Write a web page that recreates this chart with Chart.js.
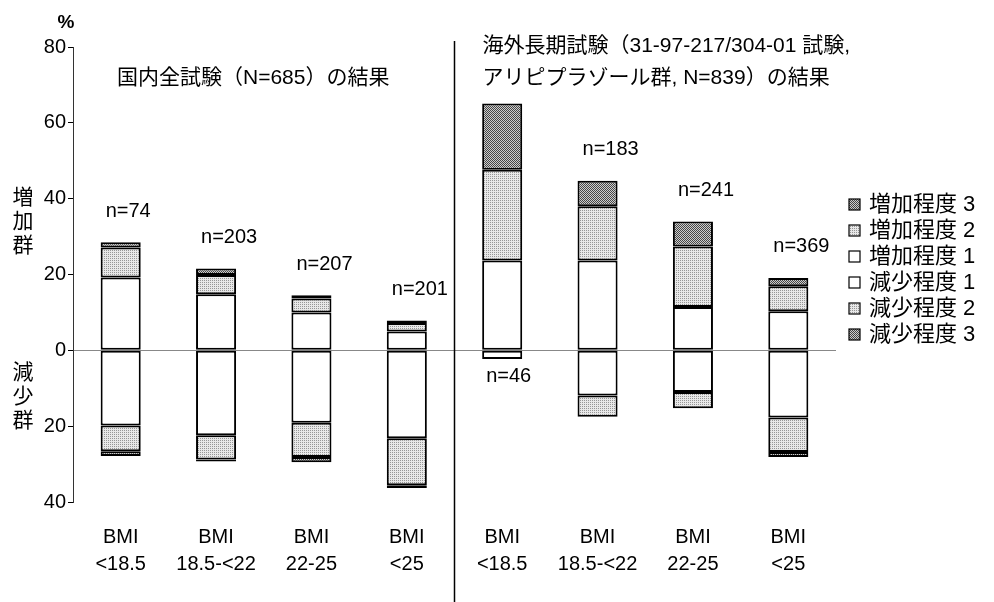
<!DOCTYPE html>
<html>
<head>
<meta charset="utf-8">
<script src="https://cdn.jsdelivr.net/npm/chart.js@4.4.1/dist/chart.umd.min.js"></script>
<style>
  body { margin: 0; background: #fff; }
  #wrap { width: 994px; height: 602px; position: relative; }
</style>
</head>
<body>
<div id="wrap"><canvas id="chart"></canvas></div>
<script>
const FONT = "'Liberation Sans', 'Noto Sans CJK JP', sans-serif";

// categories (two studies, 4 BMI groups each)
const categories = [
  ['BMI', '<18.5'], ['BMI', '18.5-<22'], ['BMI', '22-25'], ['BMI', '<25'],
  ['BMI', '<18.5'], ['BMI', '18.5-<22'], ['BMI', '22-25'], ['BMI', '<25']
];
const sampleSizes = [74, 203, 207, 201, 46, 183, 241, 369];

// % of patients, increase group
const increase1 = [19.2, 14.8, 10.0, 5.0, 23.7, 23.7, 11.4, 10.3];
const increase2 = [7.9, 5.1, 3.7, 2.2, 23.9, 14.3, 16.0, 6.6];
const increase3 = [1.4, 1.7, 0.8, 0.7, 17.5, 6.7, 6.6, 2.2];
// % of patients, decrease group (drawn below zero)
const decrease1 = [19.8, 22.4, 19.1, 23.2, 2.3, 11.9, 11.0, 17.7];
const decrease2 = [6.8, 6.4, 9.0, 12.4, 0, 5.6, 4.3, 9.1];
const decrease3 = [1.3, 0.5, 1.4, 0.7, 0, 0, 0, 1.3];

const yTicks = [-40, -20, 0, 20, 40, 60, 80];
const leftTitle = '国内全試験（N=685）の結果';
const rightTitle = ['海外長期試験（31-97-217/304-01 試験,', 'アリピプラゾール群, N=839）の結果'];

// halftone-like textures (ordered dither)
const bayer = [0, 8, 2, 10, 12, 4, 14, 6, 3, 11, 1, 9, 15, 7, 13, 5];
function dither(cut, lo, hi) {
  const c = document.createElement('canvas');
  c.width = 4; c.height = 4;
  const g = c.getContext('2d');
  bayer.forEach((t, i) => {
    const v = t < cut ? lo : hi;
    g.fillStyle = `rgb(${v},${v},${v})`;
    g.fillRect(i % 4, Math.floor(i / 4), 1, 1);
  });
  return g.createPattern(c, 'repeat');
}
const ctx0 = document.getElementById('chart').getContext('2d');
const dark = dither(8, 70, 205);
const light = dither(4, 150, 232);

const pos = arr => arr;
const neg = arr => arr.map(v => v ? -v : null);

function ds(label, data, fill) {
  return {
    label, data,
    backgroundColor: fill,
    borderColor: '#000',
    borderWidth: 2,
    borderSkipped: false,
    barPercentage: 0.42,
    categoryPercentage: 1.0
  };
}

const datasets = [
  ds('増加程度 1', pos(increase1), '#fff'),
  ds('増加程度 2', pos(increase2), light),
  ds('増加程度 3', pos(increase3), dark),
  ds('減少程度 1', neg(decrease1), '#fff'),
  ds('減少程度 2', neg(decrease2), light),
  ds('減少程度 3', neg(decrease3), dark)
];
const legendOrder = [2, 1, 0, 3, 4, 5];

const decorations = {
  id: 'decorations',
  afterDraw(chart) {
    const {ctx, chartArea, scales: {x, y}} = chart;
    ctx.save();
    ctx.fillStyle = '#000';

    // divider between the two studies
    const divX = (x.getPixelForValue(3) + x.getPixelForValue(4)) / 2;
    ctx.strokeStyle = '#000';
    ctx.lineWidth = 1.5;
    ctx.beginPath();
    ctx.moveTo(divX, 41);
    ctx.lineTo(divX, chart.height);
    ctx.stroke();

    // titles
    ctx.font = `21px ${FONT}`;
    ctx.textBaseline = 'middle';
    ctx.textAlign = 'left';
    ctx.fillText(leftTitle, chartArea.left + 44, 78);
    ctx.fillText(rightTitle[0], divX + 28, 46);
    ctx.fillText(rightTitle[1], divX + 28, 78);

    // unit and group captions
    ctx.font = `bold 19px ${FONT}`;
    ctx.textAlign = 'center';
    ctx.fillText('%', 66, 23);
    ctx.font = `21px ${FONT}`;
    ['増', '加', '群'].forEach((c, i) => ctx.fillText(c, 23, 198 + i * 24));
    ['減', '少', '群'].forEach((c, i) => ctx.fillText(c, 23, 373 + i * 24));

    // sample sizes
    ctx.font = `20px ${FONT}`;
    ctx.textAlign = 'left';
    const meta = chart.getDatasetMeta(0);
    sampleSizes.forEach((n, i) => {
      const bar = meta.data[i];
      const left = bar.x - bar.width / 2;
      const up = increase1[i] + increase2[i] + increase3[i];
      const down = decrease1[i] + decrease2[i] + decrease3[i];
      if (up > 60) {
        ctx.fillText('n=' + n, left + 4, y.getPixelForValue(-down) + 17);
      } else {
        ctx.fillText('n=' + n, left + 5, y.getPixelForValue(up) - 31);
      }
    });

    // legend
    ctx.font = `22px ${FONT}`;
    legendOrder.forEach((di, k) => {
      const d = chart.data.datasets[di];
      const cy = 205 + k * 26;
      ctx.fillStyle = d.backgroundColor;
      ctx.fillRect(849, cy - 6, 11, 11);
      ctx.lineWidth = 1.2;
      ctx.strokeStyle = '#000';
      ctx.strokeRect(849, cy - 6, 11, 11);
      ctx.fillStyle = '#000';
      ctx.fillText(d.label, 869, cy);
    });
    ctx.restore();
  }
};

new Chart(ctx0, {
  type: 'bar',
  data: { labels: categories, datasets },
  options: {
    responsive: true,
    maintainAspectRatio: false,
    animation: false,
    layout: { padding: { top: 47, right: 158, left: 0, bottom: 0 } },
    plugins: {
      legend: { display: false },
      tooltip: { enabled: false }
    },
    scales: {
      x: {
        stacked: true,
        grid: { display: false, drawTicks: false },
        border: { display: false },
        ticks: {
          color: '#000',
          font: { family: FONT, size: 20, lineHeight: 1.35 },
          padding: 22,
          maxRotation: 0
        },
        afterFit(scale) { scale.height = 100; }
      },
      y: {
        stacked: true,
        min: -40,
        max: 80,
        afterBuildTicks(scale) { scale.ticks = yTicks.map(v => ({value: v})); },
        ticks: {
          color: '#000',
          font: { family: FONT, size: 20 },
          padding: 2,
          callback: v => Math.abs(v)
        },
        grid: {
          color: c => c.tick && c.tick.value === 0 ? '#888' : 'rgba(0,0,0,0)',
          tickColor: '#000',
          tickLength: 5,
          lineWidth: 1
        },
        border: { display: true, color: '#333', width: 1 },
        afterFit(scale) { scale.width = 73; }
      }
    }
  },
  plugins: [decorations]
});
</script>
</body>
</html>
